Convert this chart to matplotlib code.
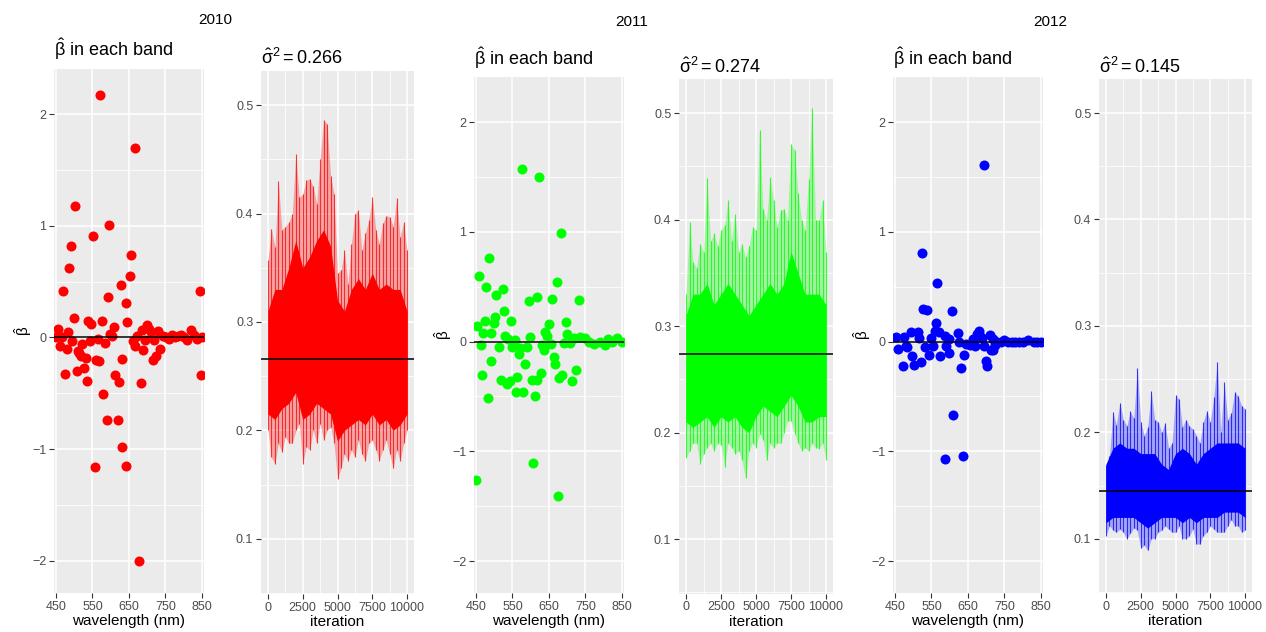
import numpy as np
import matplotlib
matplotlib.use('Agg')
import matplotlib.pyplot as plt
from matplotlib.ticker import MultipleLocator

plt.rcParams['font.family'] = ['Liberation Sans', 'DejaVu Sans']
plt.rcParams['mathtext.fontset'] = 'custom'
plt.rcParams['mathtext.rm'] = 'Liberation Sans'
plt.rcParams['mathtext.it'] = 'Liberation Sans:italic'

years = ['2010', '2011', '2012']
colors = ['#FF0000', '#00FF00', '#0000FF']
sigma2_mean = [0.266, 0.274, 0.145]

# beta-hat per band
wl_2010 = [451, 456, 460, 466, 470, 474, 479, 482, 487, 491,
           495, 499, 503, 507, 510, 514, 518, 521, 527, 531,
           535, 538, 543, 546, 552, 557, 560, 564, 568, 571,
           575, 580, 584, 589, 592, 596, 599, 604, 608, 613,
           619, 622, 627, 630, 632, 641, 643, 646, 653, 657,
           660, 666, 668, 672, 677, 682, 686, 690, 694, 699,
           704, 710, 716, 720, 725, 730, 735, 743, 752, 760,
           768, 777, 785, 793, 801, 810, 819, 828, 836, 845,
           848, 850]
beta_2010 = [0.00, 0.08, -0.08, 0.00, 0.42, -0.33, -0.10, 0.05, 0.62, 0.82,
             -0.03, 0.17, 1.18, -0.30, -0.12, -0.14, -0.17, -0.06, -0.27, -0.18,
             -0.39, 0.15, -0.03, 0.12, 0.91, -1.16, -0.20, -0.01, -0.21, 2.17,
             0.15, -0.51, -0.05, -0.74, 0.36, 1.01, 0.03, 0.01, 0.09, -0.34,
             -0.74, -0.40, 0.47, -0.19, -0.98, -1.15, 0.31, 0.14, 0.55, 0.74,
             -0.03, 1.70, -0.08, 0.01, -2.00, -0.41, 0.07, -0.11, -0.02, 0.11,
             0.08, 0.05, -0.20, -0.02, -0.17, 0.06, -0.10, 0.01, 0.00, -0.01,
             0.02, 0.00, 0.01, 0.02, 0.00, -0.02, 0.07, 0.02, -0.01, 0.42,
             -0.34, 0.00]

wl_2011 = [451, 454, 458, 463, 466, 470, 474, 478, 482, 486,
           490, 491, 498, 502, 506, 514, 518, 523, 526, 529,
           535, 538, 544, 546, 550, 556, 560, 563, 568, 571,
           575, 579, 584, 589, 595, 599, 603, 607, 612, 616,
           618, 623, 627, 631, 636, 638, 644, 651, 657, 659,
           664, 667, 672, 675, 678, 684, 687, 691, 696, 700,
           708, 713, 718, 723, 732, 734, 748, 761, 774, 791,
           805, 812, 823, 837, 850]
beta_2011 = [-1.26, 0.14, 0.60, -0.03, -0.30, 0.08, 0.19, 0.50, -0.51, 0.76,
             -0.18, 0.08, 0.17, 0.22, 0.42, -0.05, -0.35, 0.48, 0.28, 0.05,
             -0.39, 0.02, -0.36, 0.19, -0.05, 0.01, -0.46, -0.32, -0.11, -0.06,
             1.57, -0.46, -0.20, -0.05, 0.37, 0.04, -0.35, -1.11, -0.50, -0.35,
             0.41, 1.50, -0.29, -0.03, -0.08, 0.09, 0.05, 0.16, -0.02, 0.39,
             -0.14, -0.20, 0.54, -1.41, -0.33, 0.99, -0.30, -0.01, 0.18, 0.07,
             -0.01, -0.36, 0.03, -0.26, 0.38, 0.04, 0.03, 0.00, -0.02, 0.00,
             -0.03, 0.02, 0.00, 0.03, 0.00]

wl_2012 = [454, 458, 472, 475, 479, 484, 493, 497, 501, 513,
           517, 521, 525, 528, 532, 539, 542, 550, 554, 559,
           562, 566, 572, 574, 586, 586, 589, 597, 598, 606,
           610, 622, 625, 631, 636, 638, 645, 655, 665, 670,
           674, 680, 682, 690, 693, 693, 699, 703, 711, 713,
           718, 720, 725, 730, 740, 750, 760, 770, 780, 790,
           800, 815, 830, 840, 850]
beta_2012 = [0.04, -0.07, -0.22, 0.04, -0.04, -0.05, 0.09, -0.13, -0.21, 0.09,
             0.03, -0.19, 0.81, 0.30, -0.05, 0.29, -0.12, 0.03, -0.04, 0.10,
             0.17, 0.53, 0.09, -0.13, -1.07, 0.05, -0.04, 0.02, -0.10, 0.28,
             -0.67, 0.08, 0.00, -0.24, -1.04, -0.12, -0.02, -0.03, 0.02, -0.04,
             0.07, 0.10, 0.05, 0.03, 1.61, -0.04, -0.18, -0.22, 0.06, -0.08,
             -0.08, 0.02, -0.03, 0.00, 0.00, 0.01, 0.00, 0.00, 0.00, 0.00,
             0.00, 0.01, 0.00, 0.00, 0.00]

# sigma^2 traces, read as spike extremes every 250 iterations
# and the dense core band every 500 iterations
iters = np.arange(0, 10001, 250)
core_iters = np.arange(0, 10001, 500)

hi_2010 = [0.357, 0.386, 0.369, 0.430, 0.385, 0.388, 0.392, 0.400, 0.455, 0.415,
           0.418, 0.431, 0.432, 0.425, 0.409, 0.450, 0.486, 0.483, 0.435, 0.418,
           0.345, 0.348, 0.366, 0.335, 0.372, 0.400, 0.403, 0.366, 0.382, 0.394,
           0.415, 0.385, 0.372, 0.391, 0.398, 0.397, 0.388, 0.414, 0.378, 0.392,
           0.366]
lo_2010 = [0.200, 0.175, 0.169, 0.188, 0.180, 0.194, 0.188, 0.188, 0.200, 0.206,
           0.169, 0.185, 0.182, 0.200, 0.188, 0.206, 0.191, 0.200, 0.203, 0.188,
           0.155, 0.165, 0.178, 0.172, 0.182, 0.175, 0.191, 0.178, 0.172, 0.188,
           0.191, 0.182, 0.172, 0.182, 0.191, 0.178, 0.165, 0.182, 0.172, 0.188,
           0.200]
core_hi_2010 = [0.31, 0.33, 0.33, 0.35, 0.375, 0.35, 0.36, 0.375, 0.385, 0.37, 0.32,
                0.31, 0.33, 0.34, 0.33, 0.345, 0.33, 0.335, 0.33, 0.33, 0.31]
core_lo_2010 = [0.215, 0.21, 0.22, 0.225, 0.235, 0.21, 0.215, 0.225, 0.22, 0.215, 0.19,
                0.20, 0.205, 0.21, 0.205, 0.215, 0.205, 0.21, 0.20, 0.205, 0.215]

hi_2011 = [0.330, 0.398, 0.360, 0.355, 0.377, 0.370, 0.439, 0.380, 0.387, 0.375,
           0.390, 0.395, 0.418, 0.380, 0.405, 0.370, 0.377, 0.365, 0.375, 0.393,
           0.390, 0.484, 0.410, 0.400, 0.440, 0.418, 0.393, 0.409, 0.410, 0.400,
           0.471, 0.465, 0.425, 0.400, 0.390, 0.438, 0.505, 0.400, 0.400, 0.418,
           0.370]
lo_2011 = [0.176, 0.183, 0.190, 0.190, 0.171, 0.180, 0.186, 0.190, 0.183, 0.190,
           0.188, 0.168, 0.190, 0.186, 0.180, 0.183, 0.174, 0.157, 0.183, 0.190,
           0.186, 0.199, 0.193, 0.174, 0.190, 0.186, 0.190, 0.190, 0.200, 0.211,
           0.211, 0.199, 0.190, 0.183, 0.186, 0.183, 0.190, 0.186, 0.185, 0.190,
           0.174]
core_hi_2011 = [0.31, 0.33, 0.33, 0.34, 0.32, 0.33, 0.34, 0.33, 0.32, 0.31, 0.32,
                0.33, 0.34, 0.33, 0.34, 0.37, 0.35, 0.33, 0.33, 0.33, 0.32]
core_lo_2011 = [0.21, 0.205, 0.21, 0.215, 0.205, 0.215, 0.21, 0.215, 0.205, 0.20, 0.215,
                0.225, 0.22, 0.215, 0.225, 0.235, 0.225, 0.21, 0.21, 0.215, 0.215]

hi_2012 = [0.169, 0.178, 0.219, 0.207, 0.228, 0.212, 0.206, 0.220, 0.213, 0.260,
           0.210, 0.197, 0.205, 0.239, 0.212, 0.210, 0.200, 0.209, 0.185, 0.190,
           0.235, 0.231, 0.205, 0.212, 0.206, 0.203, 0.197, 0.190, 0.210, 0.220,
           0.210, 0.233, 0.266, 0.200, 0.247, 0.212, 0.218, 0.238, 0.234, 0.225,
           0.222]
lo_2012 = [0.103, 0.112, 0.108, 0.106, 0.109, 0.106, 0.100, 0.105, 0.110, 0.108,
           0.091, 0.094, 0.089, 0.100, 0.100, 0.106, 0.108, 0.112, 0.109, 0.106,
           0.106, 0.112, 0.100, 0.100, 0.103, 0.109, 0.095, 0.095, 0.103, 0.106,
           0.112, 0.109, 0.106, 0.106, 0.106, 0.112, 0.118, 0.112, 0.112, 0.106,
           0.108]
core_hi_2012 = [0.17, 0.185, 0.19, 0.185, 0.185, 0.18, 0.18, 0.18, 0.17, 0.165, 0.18,
                0.185, 0.18, 0.17, 0.18, 0.185, 0.19, 0.19, 0.19, 0.19, 0.185]
core_lo_2012 = [0.115, 0.12, 0.12, 0.12, 0.12, 0.115, 0.11, 0.115, 0.12, 0.12, 0.12,
                0.115, 0.12, 0.115, 0.12, 0.12, 0.12, 0.125, 0.125, 0.125, 0.12]

wl = [wl_2010, wl_2011, wl_2012]
beta = [beta_2010, beta_2011, beta_2012]
hi = [hi_2010, hi_2011, hi_2012]
lo = [lo_2010, lo_2011, lo_2012]
core_hi = [core_hi_2010, core_hi_2011, core_hi_2012]
core_lo = [core_lo_2010, core_lo_2011, core_lo_2012]

W, H = 1266, 632


def rect(x0, y0, x1, y1):
    return [x0 / W, 1 - y1 / H, (x1 - x0) / W, (y1 - y0) / H]


def gg_style(ax):
    ax.set_facecolor('#EBEBEB')
    for s in ax.spines.values():
        s.set_visible(False)
    ax.grid(which='major', color='white', lw=1.1)
    ax.grid(which='minor', color='white', lw=0.55)
    ax.set_axisbelow(True)
    ax.tick_params(which='major', length=3.5, width=0.8, color='#333333',
                   labelsize=9, labelcolor='#4D4D4D', pad=2)
    ax.tick_params(which='minor', length=0)


scatter_boxes = [(54, 68.5, 204, 593), (474, 77, 624, 593), (893, 77, 1043, 593)]
trace_boxes = [(261, 70.5, 414, 594), (679, 79, 833, 593.5), (1099, 79, 1252, 593)]
year_pos = [(215, 20), (632, 22), (1050, 22)]

fig = plt.figure(figsize=(W / 100, H / 100), dpi=100)

for i in range(3):
    c = colors[i]

    ax = fig.add_axes(rect(*scatter_boxes[i]))
    gg_style(ax)
    ax.scatter(wl[i], beta[i], s=52, color=c, lw=0, zorder=3)
    ax.axhline(0, color='black', lw=1.1, zorder=4)
    ax.set_xlim(444.5, 856)
    ax.set_ylim(-2.29, 2.41)
    ax.set_xticks([450, 550, 650, 750, 850])
    ax.set_yticks([-2, -1, 0, 1, 2])
    ax.xaxis.set_minor_locator(MultipleLocator(100, offset=50))
    ax.yaxis.set_minor_locator(MultipleLocator(1, offset=0.5))
    ax.set_xlabel('wavelength (nm)', fontsize=11, labelpad=1)
    ax.set_ylabel(r'$\hat{\mathrm{\beta}}$', fontsize=11, labelpad=-1)
    ax.text(0, 1.012, r'$\hat{\mathrm{\beta}}$ in each band', transform=ax.transAxes,
            fontsize=13, ha='left', va='bottom')

    ax = fig.add_axes(rect(*trace_boxes[i]))
    gg_style(ax)
    ax.fill_between(iters, lo[i], hi[i], color=c, lw=0, alpha=0.3, zorder=2)
    ax.vlines(iters, lo[i], hi[i], color=c, lw=0.8, alpha=0.75, zorder=2)
    ax.fill_between(core_iters, core_lo[i], core_hi[i], color=c, lw=0, zorder=3)
    ax.axhline(sigma2_mean[i], color='black', lw=1.1, zorder=4)
    ax.set_xlim(-500, 10500)
    ax.set_ylim(0.049, 0.532)
    ax.set_xticks([0, 2500, 5000, 7500, 10000])
    ax.set_yticks([0.1, 0.2, 0.3, 0.4, 0.5])
    ax.set_yticklabels(['0.1', '0.2', '0.3', '0.4', '0.5'])
    ax.xaxis.set_minor_locator(MultipleLocator(2500, offset=1250))
    ax.yaxis.set_minor_locator(MultipleLocator(0.1, offset=0.05))
    ax.set_xlabel('iteration', fontsize=11, labelpad=1)
    ax.text(0, 1.004, r'$\hat{\mathrm{\sigma}}^2 = %.3f$' % sigma2_mean[i],
            transform=ax.transAxes, fontsize=13, ha='left', va='bottom')

    fig.text(year_pos[i][0] / W, 1 - year_pos[i][1] / H, years[i], fontsize=11,
             ha='center', va='center')

fig.savefig('out.png', dpi=100)
